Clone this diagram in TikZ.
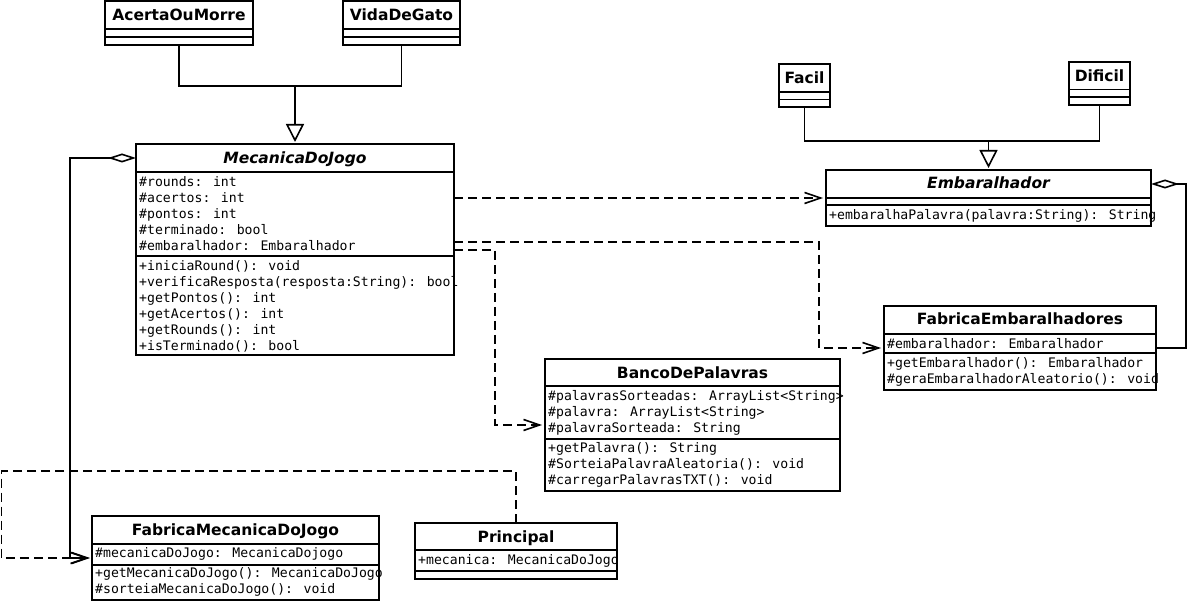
\documentclass[tikz,border=0pt]{standalone}
\usepackage{fontspec}
\newfontfamily\ttlfont{DejaVu Sans}
\newfontfamily\monfont{DejaVu Sans Mono}
\usetikzlibrary{arrows.meta,calc}
\tikzset{
  diam/.tip={Diamond[open,length=28pt,width=9pt,fill=white]},
  barb/.tip={Straight Barb[length=16pt,width=11pt]},
  tri/.tip={Triangle[open,length=18pt,width=18pt,fill=white]},
  cls/.style={draw, line width=1.6pt, anchor=north west, inner sep=0pt, outer sep=0pt, fill=white},
  sep/.style={line width=1.6pt},
  ttl/.style={anchor=base, inner sep=0pt, font=\ttlfont\fontsize{15.5}{18}\selectfont\bfseries},
  attr/.style={anchor=north west, inner sep=0pt, align=left, font=\monfont\fontsize{13.15}{16}\selectfont},
  conn/.style={line width=1.6pt},
  dep/.style={conn, dash pattern=on 9pt off 5pt, -barb, shorten >=3pt},
  gen/.style={conn, -tri, shorten >=2pt},
}
\begin{document}
\begin{tikzpicture}[x=1pt,y=-1pt]
\useasboundingbox (0,0) rectangle (1188,601);

% AcertaOuMorre
\node[cls, minimum width=148pt, minimum height=44pt] (acerta) at (105,1) {};
\draw[sep] (acerta.west |- 0,29) -- (acerta.east |- 0,29);
\draw[sep] (acerta.west |- 0,37) -- (acerta.east |- 0,37);
\node[ttl] (acertaT) at (179,20.5) {AcertaOuMorre};

% VidaDeGato
\node[cls, minimum width=117pt, minimum height=44pt] (vida) at (343,1) {};
\draw[sep] (vida.west |- 0,29) -- (vida.east |- 0,29);
\draw[sep] (vida.west |- 0,37) -- (vida.east |- 0,37);
\node[ttl] (vidaT) at (401.5,20.5) {VidaDeGato};

% MecanicaDoJogo
\node[cls, minimum width=318pt, minimum height=211pt] (mec) at (136,144) {};
\draw[sep] (mec.west |- 0,172) -- (mec.east |- 0,172);
\draw[sep] (mec.west |- 0,256) -- (mec.east |- 0,256);
\node[ttl, font=\ttlfont\fontsize{15.5}{18}\selectfont\bfseries\itshape] (mecT) at (295,164) {MecanicaDoJogo};
\node[attr] (mecA) at (139,174.8) {\strut\#rounds: int\\\strut\#acertos: int\\\strut\#pontos: int\\\strut\#terminado: bool\\\strut\#embaralhador: Embaralhador};
\node[attr] (mecM) at (139,258.8) {\strut+iniciaRound(): void\\\strut+verificaResposta(resposta:String): bool\\\strut+getPontos(): int\\\strut+getAcertos(): int\\\strut+getRounds(): int\\\strut+isTerminado(): bool};

% Facil
\node[cls, minimum width=51pt, minimum height=43pt] (facil) at (779,64) {};
\draw[sep] (facil.west |- 0,92) -- (facil.east |- 0,92);
\draw[sep] (facil.west |- 0,99.5) -- (facil.east |- 0,99.5);
\node[ttl] (facilT) at (804.5,83.5) {Facil};

% Dificil
\node[cls, minimum width=61pt, minimum height=43pt] (dificil) at (1069,62) {};
\draw[sep] (dificil.west |- 0,89.5) -- (dificil.east |- 0,89.5);
\draw[sep] (dificil.west |- 0,97) -- (dificil.east |- 0,97);
\node[ttl] (dificilT) at (1099.5,81.5) {Dificil};

% Embaralhador
\node[cls, minimum width=325pt, minimum height=56pt] (emb) at (826,170) {};
\draw[sep] (emb.west |- 0,198) -- (emb.east |- 0,198);
\draw[sep] (emb.west |- 0,205) -- (emb.east |- 0,205);
\node[ttl, font=\ttlfont\fontsize{15.5}{18}\selectfont\bfseries\itshape] (embT) at (988.5,189) {Embaralhador};
\node[attr] (embM) at (829,207.8) {\strut+embaralhaPalavra(palavra:String): String};

% BancoDePalavras
\node[cls, minimum width=295pt, minimum height=132pt] (banco) at (545,359) {};
\draw[sep] (banco.west |- 0,386) -- (banco.east |- 0,386);
\draw[sep] (banco.west |- 0,439) -- (banco.east |- 0,439);
\node[ttl] (bancoT) at (692.5,378.5) {BancoDePalavras};
\node[attr] (bancoA) at (548,388.8) {\strut\#palavrasSorteadas: ArrayList<String>\\\strut\#palavra: ArrayList<String>\\\strut\#palavraSorteada: String};
\node[attr] (bancoM) at (548,441.3) {\strut+getPalavra(): String\\\strut\#SorteiaPalavraAleatoria(): void\\\strut\#carregarPalavrasTXT(): void};

% FabricaEmbaralhadores
\node[cls, minimum width=272pt, minimum height=84pt] (fabEmb) at (884,306) {};
\draw[sep] (fabEmb.west |- 0,334) -- (fabEmb.east |- 0,334);
\draw[sep] (fabEmb.west |- 0,353) -- (fabEmb.east |- 0,353);
\node[ttl] (fabEmbT) at (1020,325) {FabricaEmbaralhadores};
\node[attr] (fabEmbA) at (887,336.8) {\strut\#embaralhador: Embaralhador};
\node[attr] (fabEmbM) at (887,355.8) {\strut+getEmbaralhador(): Embaralhador\\\strut\#geraEmbaralhadorAleatorio(): void};

% FabricaMecanicaDoJogo
\node[cls, minimum width=287pt, minimum height=84pt] (fabMec) at (92,516) {};
\draw[sep] (fabMec.west |- 0,544) -- (fabMec.east |- 0,544);
\draw[sep] (fabMec.west |- 0,565) -- (fabMec.east |- 0,565);
\node[ttl] (fabMecT) at (235.5,535.5) {FabricaMecanicaDoJogo};
\node[attr] (fabMecA) at (95,545.8) {\strut\#mecanicaDoJogo: MecanicaDojogo};
\node[attr] (fabMecM) at (95,566.3) {\strut+getMecanicaDoJogo(): MecanicaDoJogo\\\strut\#sorteiaMecanicaDoJogo(): void};

% Principal
\node[cls, minimum width=202pt, minimum height=56pt] (principal) at (415,523) {};
\draw[sep] (principal.west |- 0,550) -- (principal.east |- 0,550);
\draw[sep] (principal.west |- 0,571) -- (principal.east |- 0,571);
\node[ttl] (principalT) at (516,542.5) {Principal};
\node[attr] (principalA) at (418,552.8) {\strut+mecanica: MecanicaDoJogo};

% generalizations
\coordinate (j1) at (295,86);
\draw[conn] (acerta.south) |- (j1);
\draw[conn] (vida.south) |- (j1);
\draw[gen] (j1) -- (mec.north);
\coordinate (j2) at (988.5,141);
\draw[conn] (facil.south) |- (j2);
\draw[conn] (dificil.south) |- (j2);
\draw[gen] (j2) -- (emb.north);

% dependencies
\draw[dep] ($(mec.north east)+(0,54)$) -- ($(emb.north west)+(0,28)$);
\draw[dep] ($(mec.north east)+(0,98)$) -| ($(fabEmb.west)+(-65,0)$) -- (fabEmb.west);
\draw[dep] ($(mec.north east)+(0,106)$) -| ($(banco.west)+(-50,0)$) -- (banco.west);
\draw[dep] (principal.north) -- ++(0,-52) -| ($(fabMec.west)+(-90.5,0)$) -- (fabMec.west);

% aggregations
\draw[conn, diam-] ($(emb.north east)+(0,14)$) -- ++(35,0) |- (fabEmb.east);
\draw[conn, diam-barb, shorten >=2pt] ($(mec.north west)+(0,14)$) -- ++(-66,0) |- (fabMec.west);
\end{tikzpicture}
\end{document}
